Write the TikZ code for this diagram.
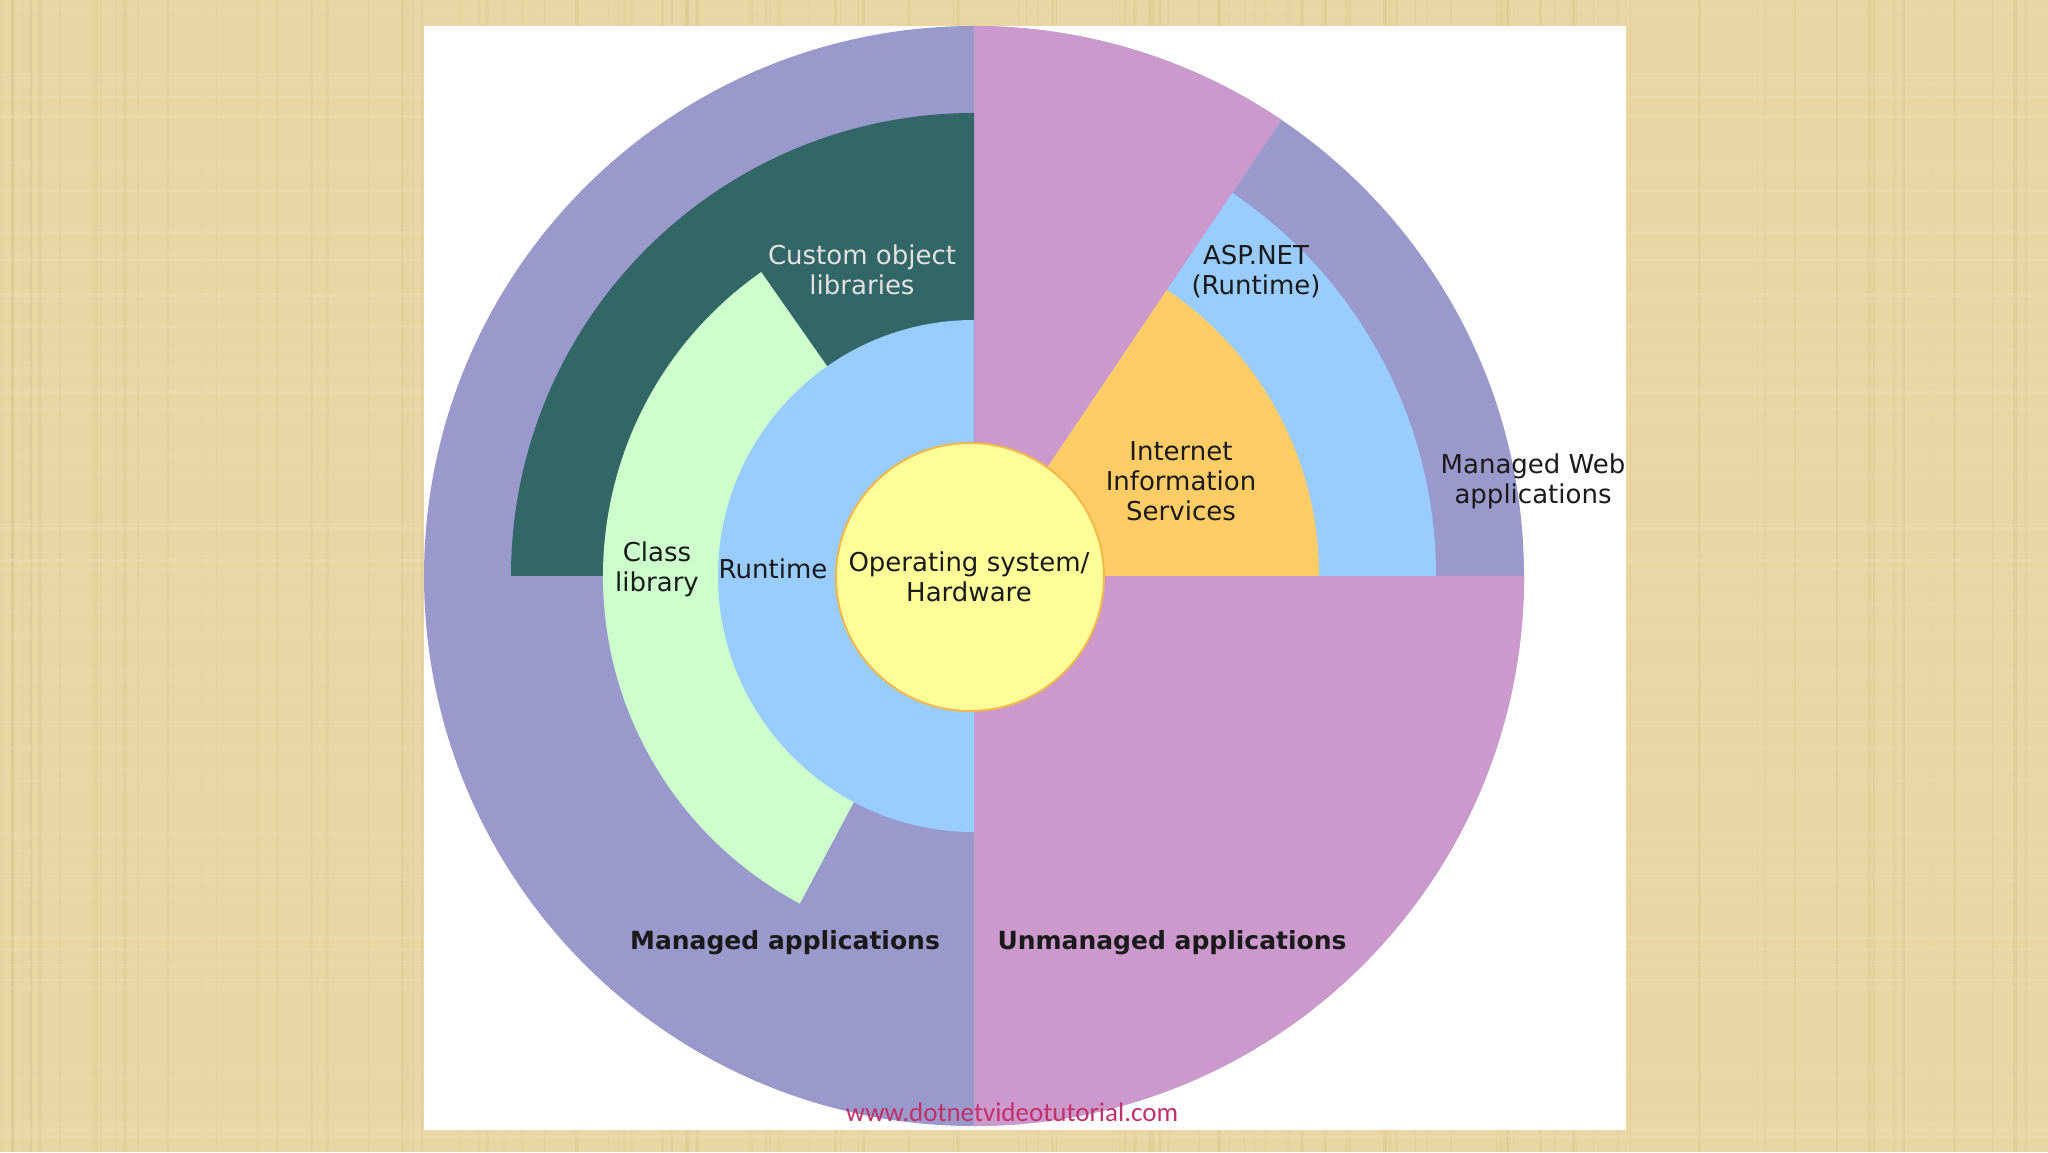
\documentclass[tikz,border=0pt]{standalone}
\usepackage{fontspec}
\setmainfont{DejaVu Sans}
\newfontfamily\urlfont{Carlito}
\definecolor{paper}{HTML}{E9D6A2}
\definecolor{paperdark}{HTML}{C9B174}
\definecolor{paperlight}{HTML}{F4E6C0}
\definecolor{managed}{HTML}{9999CC}
\definecolor{unmanaged}{HTML}{CC99CC}
\definecolor{lblue}{HTML}{99CCFF}
\definecolor{lgreen}{HTML}{CCFFCC}
\definecolor{teal}{HTML}{336666}
\definecolor{iis}{HTML}{FFCC66}
\definecolor{osyellow}{HTML}{FFFF99}
\definecolor{osborder}{HTML}{F2B84B}
\definecolor{urlred}{HTML}{C2306B}
\definecolor{ink}{HTML}{1A1A1A}
\definecolor{lightink}{HTML}{E2E2E2}
\begin{document}
\begin{tikzpicture}[x=0.5pt,y=0.5pt,
  lbl/.style={align=center,text=ink,font=\fontsize{13}{15}\selectfont,inner sep=0pt},
  bold/.style={align=center,text=ink,font=\fontsize{12.5}{15}\selectfont\bfseries,inner sep=0pt}]
\useasboundingbox (0,0) rectangle (2048,1152);
% papyrus background
\fill[paper] (0,0) rectangle (2048,1152);
\pgfmathsetseed{11}
\foreach \i in {1,...,140}{
  \pgfmathsetmacro{\xx}{rnd*2048}
  \pgfmathsetmacro{\ww}{1+rnd*3}
  \pgfmathsetmacro{\oo}{0.05+rnd*0.15}
  \draw[paperdark,line width=\ww*0.5pt,opacity=\oo] (\xx,0) -- (\xx,1152);
}
\foreach \i in {1,...,90}{
  \pgfmathsetmacro{\yy}{rnd*1152}
  \pgfmathsetmacro{\ww}{1+rnd*3}
  \pgfmathsetmacro{\oo}{0.05+rnd*0.2}
  \draw[paperlight,line width=\ww*0.5pt,opacity=\oo] (0,\yy) -- (2048,\yy);
}
% white panel
\fill[white] (424,22) rectangle (1626,1126);
\coordinate (c) at (974,576);
% outer managed circle
\fill[managed] (c) circle[radius=275pt];
% unmanaged parts
\fill[unmanaged] (c) -- ++(56:275pt) arc[start angle=56,end angle=90,radius=275pt] -- cycle;
\fill[unmanaged] (c) -- ++(270:275pt) arc[start angle=270,end angle=360,radius=275pt] -- cycle;
% ASP.NET ring and IIS
\fill[lblue] (c) -- ++(0:231pt) arc[start angle=0,end angle=56,radius=231pt] -- cycle;
\fill[iis] (c) -- ++(0:172.5pt) arc[start angle=0,end angle=56,radius=172.5pt] -- cycle;
% custom object libraries
\fill[teal] (c) -- ++(90:231.5pt) arc[start angle=90,end angle=180,radius=231.5pt] -- cycle;
% class library
\fill[lgreen] (c) -- ++(125:185.5pt) arc[start angle=125,end angle=242,radius=185.5pt] -- cycle;
% runtime
\fill[lblue] (c) -- ++(90:128pt) arc[start angle=90,end angle=270,radius=128pt] -- cycle;
% operating system
\filldraw[fill=osyellow,draw=osborder,line width=1pt] (970,575) circle[radius=67pt];
% labels
\node[lbl,text=lightink] (custom) at (862,882) {Custom object\\libraries};
\node[lbl] (classlib) at (657,583) {Class\\library};
\node[lbl] (runtime) at (773,583) {Runtime};
\node[lbl] (os) at (969,575) {Operating system/\\Hardware};
\node[lbl] (iisl) at (1181,671) {Internet\\Information\\Services};
\node[lbl] (asp) at (1256,880) {ASP.NET\\(Runtime)};
\node[lbl] (mwa) at (1533,671) {Managed Web\\applications};
\node[bold] (managedl) at (785,209) {Managed applications};
\node[bold] (unmanagedl) at (1172,209) {Unmanaged applications};
\node[inner sep=0pt,text=urlred,font=\urlfont\fontsize{13.5}{15}\selectfont] (url) at (1012,40) {www.dotnetvideotutorial.com};
\end{tikzpicture}
\end{document}
